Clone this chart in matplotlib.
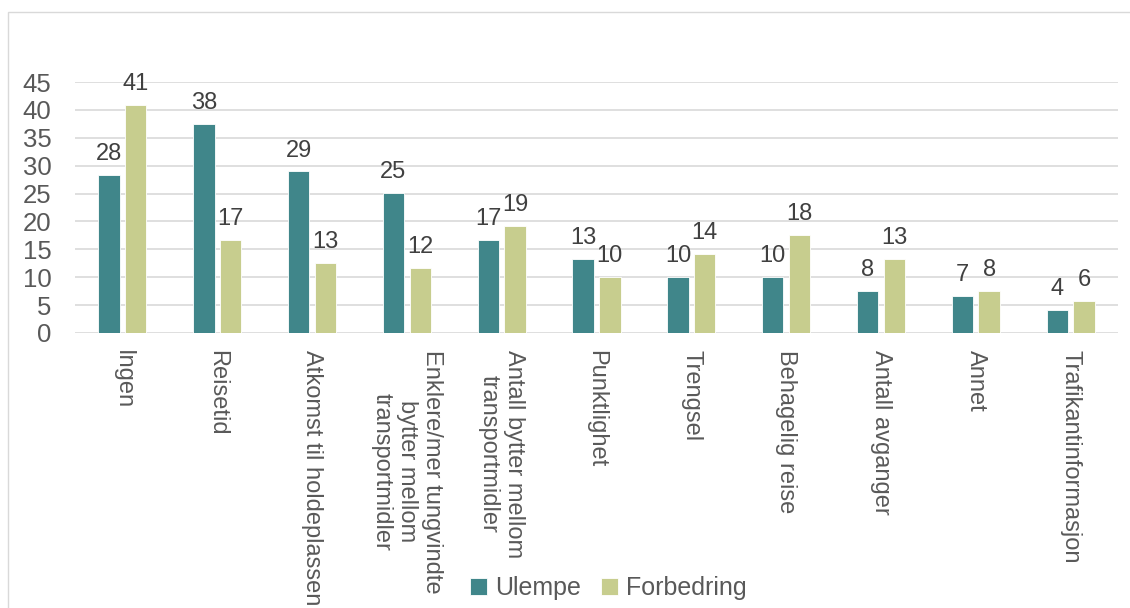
import matplotlib
matplotlib.use("Agg")
import matplotlib.pyplot as plt
from matplotlib.patches import Rectangle
import numpy as np

categories = [
    "Ingen",
    "Reisetid",
    "Atkomst til holdeplassen",
    "Enklere/mer tungvindte\nbytter mellom\ntransportmidler",
    "Antall bytter mellom\ntransportmidler",
    "Punktlighet",
    "Trengsel",
    "Behagelig reise",
    "Antall avganger",
    "Annet",
    "Trafikantinformasjon",
]
ulempe = [28.3, 37.5, 29.0, 25.1, 16.7, 13.3, 10.0, 10.0, 7.6, 6.6, 4.1]
forbedring = [40.9, 16.7, 12.6, 11.7, 19.2, 10.0, 14.2, 17.6, 13.3, 7.6, 5.7]
series_names = ["Ulempe", "Forbedring"]
yticks = [0, 5, 10, 15, 20, 25, 30, 35, 40, 45]

col_u = "#40868A"
col_f = "#C7CD8E"
txt = "#595959"
lbl = "#404040"

plt.rcParams["font.family"] = ["Liberation Sans", "DejaVu Sans"]

W, H = 1130, 608
fig = plt.figure(figsize=(W / 100, H / 100), dpi=100)

# chart frame (top and left edges visible)
fig.patches.append(Rectangle((8 / W, -0.1), 1.2, 1 - 12 / H + 0.1,
                             transform=fig.transFigure, fill=False,
                             edgecolor="#D9D9D9", linewidth=1.0))

ax = fig.add_axes([75 / W, 1 - 333 / H, (1118 - 75) / W, (333 - 82) / H])

x = np.arange(len(categories))
bw = 0.225
off = 0.141
b1 = ax.bar(x - off, ulempe, bw, color=col_u, edgecolor="white", linewidth=0.6,
            label=series_names[0], zorder=3)
b2 = ax.bar(x + off, forbedring, bw, color=col_f, edgecolor="white", linewidth=0.6,
            label=series_names[1], zorder=3)

for bars, vals in ((b1, ulempe), (b2, forbedring)):
    for r, v in zip(bars, vals):
        ax.annotate(f"{round(v):d}", (r.get_x() + r.get_width() / 2, v),
                    xytext=(0, 7), textcoords="offset points",
                    ha="center", va="bottom", fontsize=17, color=lbl)

ax.set_xlim(-0.5, len(categories) - 0.5)
ax.set_ylim(0, 45)
ax.set_yticks(yticks)
ax.set_yticklabels([str(t) for t in yticks], fontsize=18.5, color=txt)
ax.set_xticks(x)
ax.set_xticklabels(categories, rotation=270, fontsize=17, color=txt,
                   ha="center", va="top", multialignment="center")
ax.tick_params(axis="both", length=0)
ax.tick_params(axis="y", pad=17)
ax.tick_params(axis="x", pad=12)

ax.grid(axis="y", color="#D9D9D9", linewidth=1.2, zorder=0)
for s in ax.spines.values():
    s.set_visible(False)
ax.set_axisbelow(True)

fig.legend(handles=[b1, b2], labels=series_names, loc="center",
           bbox_to_anchor=(608 / W, 1 - 588 / H), ncol=2, frameon=False,
           fontsize=18, labelcolor=txt, handlelength=0.7, handleheight=0.7,
           handletextpad=0.3, columnspacing=0.8)

fig.savefig("out.png", dpi=100, facecolor="white")
